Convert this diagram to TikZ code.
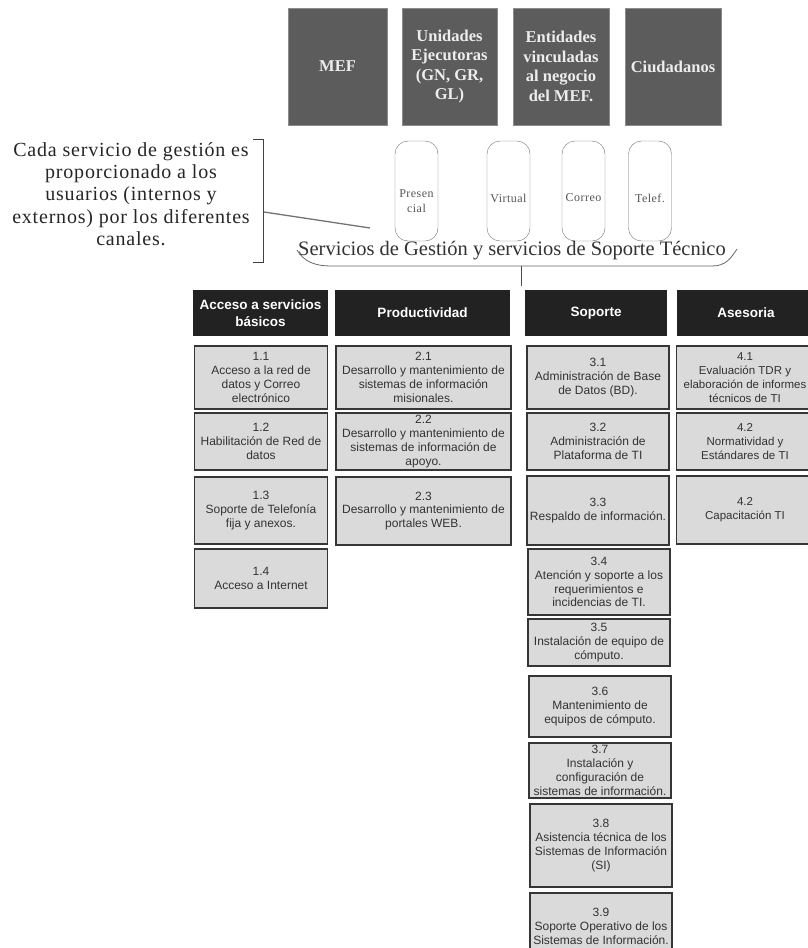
\documentclass[tikz,border=0pt]{standalone}
\usepackage{fontspec}
\setmainfont{Liberation Serif}
\setsansfont{Liberation Sans}
\newfontfamily\notefont[LetterSpace=4]{Liberation Serif}
\definecolor{userfill}{HTML}{5C5C5C}
\definecolor{userline}{HTML}{8C8C8C}
\definecolor{usertext}{HTML}{EDEDED}
\definecolor{headfill}{HTML}{222222}
\definecolor{itemfill}{HTML}{DADADA}
\definecolor{itemline}{HTML}{363636}
\definecolor{itemtext}{HTML}{333333}
\definecolor{chanline}{HTML}{707070}
\definecolor{chantext}{HTML}{555555}
\begin{document}
\begin{tikzpicture}[x=1pt, y=-1pt]

    \useasboundingbox (0,0) rectangle (808,948);

    \tikzset{userbox/.style={draw=userline, fill=userfill, text=usertext, align=center, inner sep=0pt,
        minimum width=96pt, minimum height=117pt, font=\bfseries\fontsize{16.5}{19.5}\selectfont}}
    \tikzset{chanbox/.style={draw=chanline, rounded corners=13pt, minimum width=43pt, minimum height=100pt, inner sep=0pt}}
    \tikzset{chanlabel/.style={text=chantext, align=center, inner sep=0pt, font=\notefont\fontsize{12}{15}\selectfont}}
    \tikzset{headbox/.style={fill=headfill, text=white, align=center, inner sep=0pt, minimum height=46pt,
        font=\sffamily\bfseries\fontsize{13.5}{17}\selectfont}}
    \tikzset{itembox/.style={draw=itemline, line width=1.4pt, fill=itemfill, text=itemtext, align=center, inner sep=0pt,
        font=\sffamily\fontsize{12}{13.8}\selectfont}}
    \tikzset{colA/.style={itembox, minimum width=133pt}}
    \tikzset{colB/.style={itembox, minimum width=175pt}}
    \tikzset{colC/.style={itembox, minimum width=142pt}}
    \tikzset{colD/.style={itembox, minimum width=137pt, font=\sffamily\fontsize{11.5}{13.8}\selectfont}}

    % usuarios
    \node[userbox, minimum width=99pt] (mef) at (337.5, 66.5) {MEF};
    \node[userbox, minimum width=95pt] (ue)  at (449.5, 66.5) {Unidades\\Ejecutoras\\(GN, GR,\\GL)};
    \node[userbox] (ent) at (561, 66.5) {Entidades\\vinculadas\\al negocio\\del MEF.};
    \node[userbox] (ciu) at (673, 66.5) {Ciudadanos};

    % canales
    \node[chanbox] (pre) at (416.5, 191) {};
    \node[chanbox] (vir) at (508.5, 191) {};
    \node[chanbox] (cor) at (583.5, 191) {};
    \node[chanbox] (tel) at (650, 191) {};
    \node[chanlabel] (lpre) at (416.5, 201) {Presen\\cial};
    \node[chanlabel] (lvir) at (508.5, 198) {Virtual};
    \node[chanlabel] (lcor) at (583.5, 198) {Correo};
    \node[chanlabel] (ltel) at (650, 198) {Telef.};

    % nota
    \node[align=center, inner sep=0pt, font=\notefont\fontsize{20}{22.2}\selectfont, text=black!85] (nota) at (131, 194)
        {Cada servicio de gestión es\\proporcionado a los\\usuarios (internos y\\externos) por los diferentes\\canales.};
    \draw[black!75, line width=0.8pt] (253,139) -- (263,139) -- (263,262) -- (253,262);
    \coordinate (brk) at (264, 212);
    \coordinate (ptr) at (370, 228);
    \draw[black!55, line width=1.3pt] (brk) -- (ptr);

    \node[inner sep=0pt, font=\fontsize{20.5}{24}\selectfont, text=black!80] (serv) at (512, 251)
        {Servicios de Gestión y servicios de Soporte Técnico};
    \draw[black!60, line width=0.8pt] (297,250) .. controls (304,261) and (313,266) .. (332,266) -- (712,266)
        .. controls (726,266) and (731,258) .. (737,249);
    \coordinate (bmid) at (521, 266);
    \coordinate (bend) at (521, 286);
    \draw[black!70, line width=0.8pt] (bmid) -- (bend);

    % cabeceras
    \node[headbox, minimum width=135pt] (hA) at (260.5, 313) {Acceso a servicios\\básicos};
    \node[headbox, minimum width=175pt] (hB) at (422.5, 313) {Productividad};
    \node[headbox, minimum width=142pt] (hC) at (596, 313) {Soporte};
    \node[headbox, minimum width=138pt] (hD) at (746, 313) {Asesoria};

    % acceso a servicios basicos
    \node[colA, minimum height=63pt] (a1) at (261, 377.5) {1.1\\Acceso a la red de\\datos y Correo\\electrónico};
    \node[colA, minimum height=57pt] (a2) at (261, 441.5) {1.2\\Habilitación de Red de\\datos};
    \node[colA, minimum height=67pt] (a3) at (261, 510.5) {1.3\\Soporte de Telefonía\\fija y anexos.};
    \node[colA, minimum height=59pt] (a4) at (261, 578.5) {1.4\\Acceso a Internet};

    % productividad
    \node[colB, minimum height=63pt] (b1) at (423.5, 377.5) {2.1\\Desarrollo y mantenimiento de\\sistemas de información\\misionales.};
    \node[colB, minimum height=57pt] (b2) at (423.5, 441.5) {2.2\\Desarrollo y mantenimiento de\\sistemas de información de\\apoyo.};
    \node[colB, minimum height=68pt] (b3) at (423.5, 511) {2.3\\Desarrollo y mantenimiento de\\portales WEB.};

    % soporte
    \node[colC, minimum height=63pt] (c1) at (598, 377.5) {3.1\\Administración de Base\\de Datos (BD).};
    \node[colC, minimum height=57pt] (c2) at (598, 441.5) {3.2\\Administración de\\Plataforma de TI};
    \node[colC, minimum height=69pt] (c3) at (598, 510.5) {3.3\\Respaldo de información.};
    \node[colC, minimum height=66pt] (c4) at (599, 582) {3.4\\Atención y soporte a los\\requerimientos e\\incidencias de TI.};
    \node[colC, minimum height=47pt] (c5) at (599, 642.5) {3.5\\Instalación de equipo de\\cómputo.};
    \node[colC, minimum height=61pt] (c6) at (600, 706.5) {3.6\\Mantenimiento de\\equipos de cómputo.};
    \node[colC, minimum height=55pt] (c7) at (600, 770.5) {3.7\\Instalación y\\configuración de\\sistemas de información.};
    \node[colC, minimum height=83pt] (c8) at (601, 845.5) {3.8\\Asistencia técnica de los\\Sistemas de Información\\(SI)};
    \node[colC, minimum height=67pt] (c9) at (601, 926.5) {3.9\\Soporte Operativo de los\\Sistemas de Información.};

    % asesoria
    \node[colD, minimum height=63pt] (d1) at (745, 377.5) {4.1\\Evaluación TDR y\\elaboración de informes\\técnicos de TI};
    \node[colD, minimum height=57pt] (d2) at (745, 441.5) {4.2\\Normatividad y\\Estándares de TI};
    \node[colD, minimum height=68pt] (d3) at (745, 510) {4.2\\Capacitación TI};

\end{tikzpicture}
\end{document}
